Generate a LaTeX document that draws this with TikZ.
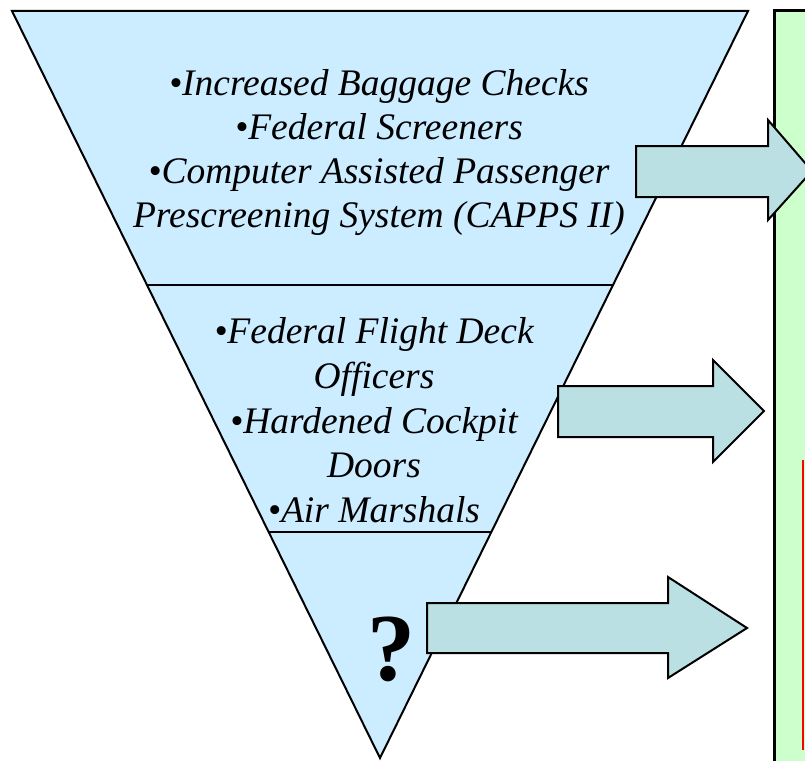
\documentclass[tikz,border=0pt]{standalone}
\usepackage{fontspec}
\setmainfont{Liberation Serif}
\definecolor{tribg}{RGB}{204,236,255}
\definecolor{arrowbg}{RGB}{187,224,227}
\definecolor{panelbg}{RGB}{204,255,204}
\tikzset{
  tri/.style={fill=tribg, draw=black, line width=2pt, line join=miter},
  blockarrow/.style={fill=arrowbg, draw=black, line width=2pt, line join=miter},
  item/.style={anchor=base, inner sep=0pt, font=\fontsize{37.5}{44}\selectfont\itshape},
  qmark/.style={anchor=base, inner sep=0pt, font=\fontsize{96}{96}\selectfont\bfseries},
}
\begin{document}
\begin{tikzpicture}[x=1pt,y=-1pt]
\useasboundingbox (0,0) rectangle (805,760);
\clip (0,0) rectangle (805,760);
% green panel
\draw[fill=panelbg, draw=black, line width=3pt] (774,11) rectangle (830,800);
\draw[red, line width=2pt] (803,460) -- (803,750);
% funnel triangle
\coordinate (tl) at (12,11);
\coordinate (tr) at (748,11);
\coordinate (ap) at (380,758);
\draw[tri] (tl) -- (tr) -- (ap) -- cycle;
\draw[line width=1.5pt] (147,285) -- (613,285);
\draw[line width=1.5pt] (269,532) -- (491,532);
% texts
\node[item] (a1) at (379,95) {•Increased Baggage Checks};
\node[item] (a2) at (379,139) {•Federal Screeners};
\node[item] (a3) at (379,183) {•Computer Assisted Passenger};
\node[item] (a4) at (379,227) {Prescreening System (CAPPS II)};
\node[item] (b1) at (374,343) {•Federal Flight Deck};
\node[item] (b2) at (374,388) {Officers};
\node[item] (b3) at (374,433) {•Hardened Cockpit};
\node[item] (b4) at (374,477) {Doors};
\node[item] (b5) at (374,522) {•Air Marshals};
\node[qmark] (q) at (391,680) {?};
% block arrows
\draw[blockarrow] (636,146) -- (768,146) -- (768,120) -- (812,171) -- (768,220) -- (768,197) -- (636,197) -- cycle;
\draw[blockarrow] (558,386) -- (713,386) -- (713,360) -- (764,411) -- (713,462) -- (713,437) -- (558,437) -- cycle;
\draw[blockarrow] (427,603) -- (668,603) -- (668,577) -- (747,628) -- (668,678) -- (668,653) -- (427,653) -- cycle;
\end{tikzpicture}
\end{document}
